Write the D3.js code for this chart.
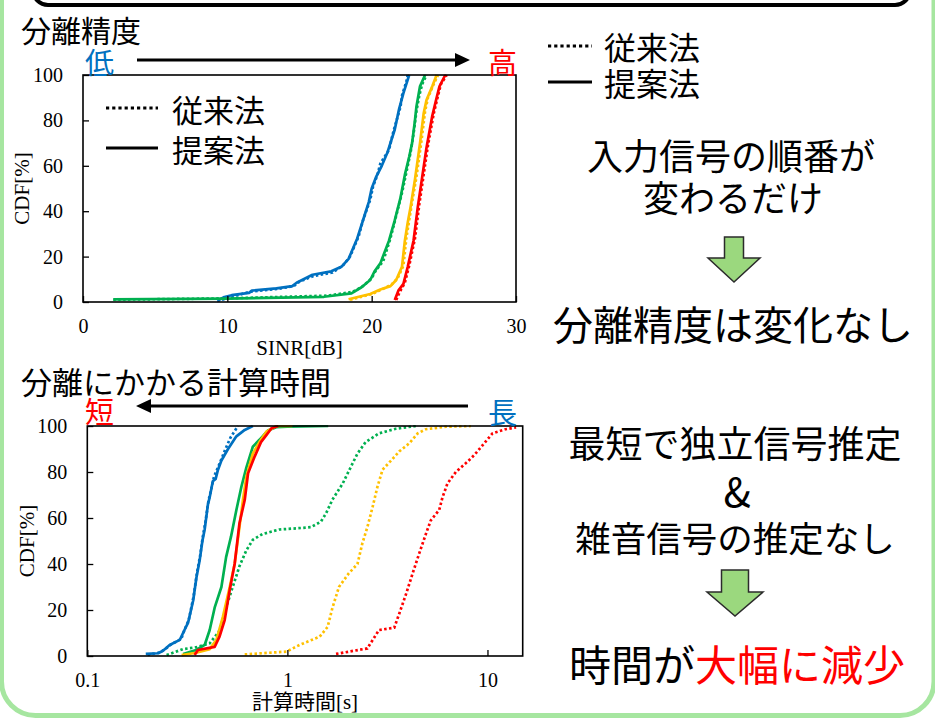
<!DOCTYPE html>
<html><head><meta charset="utf-8">
<script src="https://cdn.jsdelivr.net/npm/d3@7"></script>
<style>
html,body{margin:0;padding:0;background:#fff;}
svg{display:block;}
</style></head>
<body>
<svg id="c" width="935" height="718"></svg>
<script>
// ---------- data ----------
const seriesNames = ["blue","green","orange","red"];
const seriesColors = ["#0070C0","#00B050","#FFC000","#FF0000"];
const legendLabels = ["従来法","提案法"];

const sinrTicksX = [0,10,20,30];
const cdfTicks = [0,20,40,60,80,100];
const timeTicksX = [0.1,1,10];
const timeTickLabels = ["0.1","1","10"];

// SINR [dB] vs CDF [%]
const sinrBlueProp  = [[9.4,0.9],[9.8,2.2],[10.3,3],[11.5,4],[11.7,5],[13.4,6],[14.5,7],[14.8,8.5],[15.9,12],[17.2,13.5],[17.9,15.5],[18.4,19],[19.0,28],[19.5,38],[19.8,44],[20.0,50],[20.3,55],[20.7,60],[21.1,66],[21.6,76],[21.9,85],[22.2,92],[22.4,96],[22.6,100]];
const sinrBlueConv  = [[9.3,0.5],[10.0,1.5],[11.0,3.5],[11.6,4.5],[13.5,5.8],[14.6,7],[15.0,9],[16.0,11.5],[17.3,13],[18.0,16],[18.5,20],[19.1,29],[19.4,36],[19.9,45],[20.1,51],[20.4,56],[20.6,61],[21.2,67],[21.5,75],[22.0,86],[22.1,91],[22.4,97],[22.5,100]];
const sinrGreenProp = [[2.1,1.2],[10,1.5],[16.7,2.3],[18.6,3.8],[19.3,6.5],[19.9,9.7],[20.2,13.5],[20.6,17],[21.2,27],[21.6,36],[22.0,46],[22.3,56],[22.6,64],[22.8,70],[23.0,80],[23.1,86],[23.35,95],[23.7,100]];
const sinrGreenConv = [[2.1,1.0],[10,1.6],[17.0,2.8],[18.7,4.5],[19.4,7],[20.0,10.5],[20.3,14],[20.8,18],[21.3,28],[21.7,38],[22.1,48],[22.4,57],[22.7,66],[22.9,74],[23.1,84],[23.3,91],[23.5,96],[23.8,100]];
const sinrOrangeProp= [[18.4,1.2],[19.9,3.5],[20.6,5.5],[21.3,7],[21.7,9.7],[22.1,15.5],[22.3,27],[22.5,35],[22.7,42],[23.0,54],[23.35,70],[23.6,83],[23.8,89],[24.2,95],[24.5,100]];
const sinrOrangeConv= [[18.5,1.0],[20.0,3.5],[20.8,5.8],[21.4,7.8],[21.8,10.5],[22.2,16],[22.4,28],[22.6,36],[22.8,44],[23.1,55],[23.45,71],[23.7,84],[23.9,90],[24.3,96],[24.6,100]];
const sinrRedProp   = [[21.6,0.9],[21.85,5],[22.2,8],[22.5,15.5],[22.9,27],[23.2,42],[23.5,55],[23.8,68],[24.2,82],[24.5,90],[24.7,95],[25.1,100]];
const sinrRedConv   = [[21.7,0.9],[21.95,4.5],[22.3,8.5],[22.6,16],[23.0,28],[23.3,43],[23.6,56],[23.9,69],[24.3,83],[24.6,91],[24.8,96],[25.2,100]];

// Computation time [s] vs CDF [%]
const timeBlueProp  = [[0.196,0.9],[0.226,1.2],[0.239,2.3],[0.258,4.8],[0.29,7],[0.301,10],[0.319,14.5],[0.338,24],[0.351,34],[0.365,42],[0.376,50],[0.386,55],[0.401,66],[0.409,69],[0.424,76],[0.438,77],[0.45,81],[0.468,85],[0.505,90],[0.556,95.5],[0.612,98.3],[0.672,100]];
const timeBlueConv  = [[0.2,0.5],[0.23,1.5],[0.245,3],[0.262,5],[0.295,7.5],[0.305,11],[0.322,16],[0.34,26],[0.353,36],[0.367,44],[0.378,52],[0.389,58],[0.404,68],[0.41,70],[0.43,78],[0.45,82],[0.47,86],[0.49,90],[0.52,95],[0.566,100]];
const timeGreenProp = [[0.301,0.9],[0.35,2.6],[0.386,4.8],[0.409,11.3],[0.433,21],[0.468,30],[0.494,43],[0.523,52],[0.556,63.5],[0.589,73.6],[0.624,82],[0.672,91],[0.725,94],[0.798,98],[0.88,99.5],[1.0,99.7],[1.6,100]];
const timeGreenConv = [[0.249,0.4],[0.301,3],[0.35,3.8],[0.409,5.5],[0.458,11],[0.494,21],[0.533,30],[0.576,39],[0.624,46],[0.672,50.5],[0.75,53],[0.91,55],[1.11,55.5],[1.31,56],[1.47,58.4],[1.56,62],[1.68,68],[1.89,75],[2.07,82],[2.24,88],[2.46,93],[2.87,96.8],[3.48,98.8],[4.39,100]];
const timeOrangeProp= [[0.296,0.4],[0.35,1.4],[0.409,3],[0.442,7],[0.476,17],[0.515,30],[0.545,40],[0.576,56],[0.6,68],[0.624,78],[0.672,88],[0.725,93],[0.785,97.5],[0.88,100],[1.06,100]];
const timeOrangeConv= [[0.612,0.7],[0.99,1.9],[1.15,4.8],[1.45,8.4],[1.59,12.7],[1.68,21],[1.81,30],[2.03,36],[2.24,40],[2.37,49],[2.51,56],[2.67,65],[2.82,73.6],[2.99,81],[3.3,85],[3.63,89],[4.07,92.5],[4.48,96.8],[4.92,98.6],[6.22,99.7],[8.27,100]];
const timeRedProp   = [[0.344,0.4],[0.357,2.6],[0.433,4],[0.458,8.4],[0.486,15.6],[0.515,28.7],[0.545,40],[0.576,57.7],[0.612,67.8],[0.636,79.4],[0.686,86.7],[0.738,93],[0.785,96],[0.833,99],[0.9,100]];
const timeRedConv   = [[1.75,0.9],[2.51,3.3],[2.67,7],[2.87,11.3],[3.42,12.3],[3.63,18.6],[3.92,27],[4.23,36],[4.56,44.6],[4.92,53],[5.21,59],[5.74,63.5],[5.96,69],[6.31,75],[6.95,80],[7.95,84.5],[8.6,87.4],[9.47,91.7],[10.6,96.8],[12.3,98.6],[13.9,99.4]];

const sinrConv = [sinrBlueConv,sinrGreenConv,sinrOrangeConv,sinrRedConv];
const sinrProp = [sinrBlueProp,sinrGreenProp,sinrOrangeProp,sinrRedProp];
const timeConv = [timeBlueConv,timeGreenConv,timeOrangeConv,timeRedConv];
const timeProp = [timeBlueProp,timeGreenProp,timeOrangeProp,timeRedProp];

// ---------- drawing ----------
const svg = d3.select("#c");
const JP = '"Noto Sans CJK JP","Noto Sans",sans-serif';
const SERIF = '"Liberation Serif","Noto Sans CJK JP",serif';

// background frames
svg.append("rect").attr("x",1.5).attr("y",-60).attr("width",932.5).attr("height",775.5)
  .attr("rx",34).attr("fill","#fff").attr("stroke","#A6E6A0").attr("stroke-width",5);
svg.append("rect").attr("x",33).attr("y",-60).attr("width",877).attr("height",65)
  .attr("rx",15).attr("fill","none").attr("stroke","#000").attr("stroke-width",4);

svg.append("defs").html(`
 <clipPath id="clipA"><rect x="83" y="74" width="433" height="229"/></clipPath>
 <clipPath id="clipB"><rect x="87.3" y="425" width="435.4" height="232"/></clipPath>`);

function drawChart(opt){
  const g = svg.append("g");
  const x = opt.x, y = opt.y;
  const [x0,x1] = x.range(), [y0,y1] = y.range();
  const line = d3.line().x(d=>x(d[0])).y(d=>y(d[1]));
  const lg = g.append("g").attr("clip-path",`url(#${opt.clip})`);
  opt.conv.forEach((s,i)=>{
    lg.append("path").datum(s).attr("d",line).attr("fill","none")
      .attr("stroke",seriesColors[i]).attr("stroke-width",2.7)
      .attr("stroke-dasharray","2.5,2.4");
  });
  opt.prop.forEach((s,i)=>{
    lg.append("path").datum(s).attr("d",line).attr("fill","none")
      .attr("stroke",seriesColors[i]).attr("stroke-width",2.7)
      .attr("stroke-linejoin","round");
  });
  const ax = d3.axisBottom(x).tickValues(opt.xticks).tickSize(-6).tickPadding(17)
     .tickFormat((d,i)=>opt.xlabels ? opt.xlabels[i] : d);
  const gx = g.append("g").attr("transform",`translate(0,${y0})`).call(ax);
  const ay = d3.axisLeft(y).tickValues(cdfTicks).tickSize(-6).tickPadding(20);
  const gy = g.append("g").attr("transform",`translate(${x0},0)`).call(ay);
  [gx,gy].forEach(a=>{
    a.select(".domain").remove();
    a.selectAll("line").attr("stroke","#000").attr("stroke-width",1.3);
    a.selectAll("text").attr("font-family",SERIF).attr("font-size",20).attr("fill","#000");
  });
  g.append("rect").attr("x",x0).attr("y",y1).attr("width",x1-x0).attr("height",y0-y1)
    .attr("fill","none").attr("stroke","#000").attr("stroke-width",1.6);
  g.append("text").attr("x",(x0+x1)/2).attr("y",y0+53).attr("text-anchor","middle")
    .attr("font-family",SERIF).attr("font-size",21).text(opt.xtitle);
  g.append("text").attr("transform",`translate(${opt.ytx},${(y0+y1)/2}) rotate(-90)`)
    .attr("text-anchor","middle").attr("dominant-baseline","central")
    .attr("font-family",SERIF).attr("font-size",21).text("CDF[%]");
}

drawChart({
  x: d3.scaleLinear().domain([0,30]).range([83,516]),
  y: d3.scaleLinear().domain([0,100]).range([302,75]),
  xticks: sinrTicksX, conv: sinrConv, prop: sinrProp, clip:"clipA",
  xtitle:"SINR[dB]", ytx:22
});
drawChart({
  x: d3.scaleLog().domain([0.1,15]).range([87.3,522.7]),
  y: d3.scaleLinear().domain([0,100]).range([656,426]),
  xticks: timeTicksX, xlabels: timeTickLabels, conv: timeConv, prop: timeProp, clip:"clipB",
  xtitle:"計算時間[s]", ytx:27
});

function t(x,y,str,size,opts={}){
  const el = svg.append("text").attr("x",x).attr("y",y)
    .attr("font-family",JP).attr("font-size",size)
    .attr("dominant-baseline","central")
    .attr("text-anchor",opts.anchor||"start")
    .attr("fill",opts.fill||"#000");
  el.text(str);
  return el;
}

t(21,29,"分離精度",30);
t(21,380,"分離にかかる計算時間",31);
t(85,61,"低",29,{fill:"#0070C0"});
t(488,61,"高",29,{fill:"#FF0000"});
t(85,410,"短",29,{fill:"#FF0000"});
t(488,411,"長",29,{fill:"#0070C0"});

function arrowLine(xa,xb,yy){
  const dir = Math.sign(xb-xa), hl=15, hw=7;
  svg.append("line").attr("x1",xa).attr("y1",yy).attr("x2",xb-dir*hl).attr("y2",yy)
    .attr("stroke","#000").attr("stroke-width",3);
  svg.append("path").attr("d",`M${xb},${yy} L${xb-dir*hl},${yy-hw} L${xb-dir*hl},${yy+hw} Z`).attr("fill","#000");
}
arrowLine(137,470,60);
arrowLine(468,136,406);

function legend(xa,xb,yDot,ySol,tx,size){
  svg.append("line").attr("x1",xa).attr("x2",xb).attr("y1",yDot).attr("y2",yDot)
    .attr("stroke","#000").attr("stroke-width",3.2).attr("stroke-dasharray","3.2,3");
  svg.append("line").attr("x1",xa).attr("x2",xb).attr("y1",ySol).attr("y2",ySol)
    .attr("stroke","#000").attr("stroke-width",3.2);
  t(tx,yDot,legendLabels[0],size);
  t(tx,ySol,legendLabels[1],size);
}
legend(106,158,108,148,172,31);
legend(548,592,46,82,604,32);

t(731,154,"入力信号の順番が",36,{anchor:"middle"});
t(733,196,"変わるだけ",36,{anchor:"middle"});
t(733,323,"分離精度は変化なし",40,{anchor:"middle"});
t(735,442,"最短で独立信号推定",37,{anchor:"middle"});
t(737,490,"&",40,{anchor:"middle"});
t(735,536,"雑音信号の推定なし",35.5,{anchor:"middle"});
const last = svg.append("text").attr("x",737).attr("y",662).attr("font-family",JP)
  .attr("font-size",42).attr("dominant-baseline","central").attr("text-anchor","middle");
last.append("tspan").attr("fill","#000").text("時間が");
last.append("tspan").attr("fill","#FF0000").text("大幅に減少");

function downArrow(cx,top,shaftW,headY,headW,tip){
  const p = `M${cx-shaftW/2},${top} L${cx+shaftW/2},${top} L${cx+shaftW/2},${headY} L${cx+headW/2},${headY} L${cx},${tip} L${cx-headW/2},${headY} L${cx-shaftW/2},${headY} Z`;
  svg.append("path").attr("d",p).attr("fill","#9BD87E").attr("stroke","#2b2b2b").attr("stroke-width",1.5);
}
downArrow(734,237,19,258,52,282);
downArrow(735,570,27,592,56,616);
</script>
</body></html>
